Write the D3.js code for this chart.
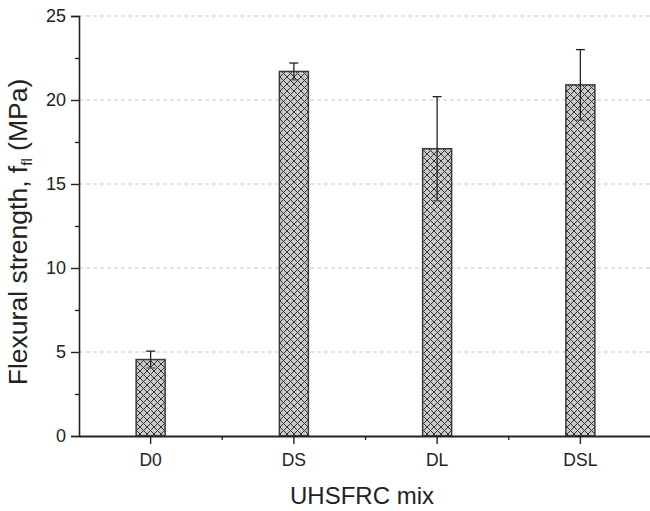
<!DOCTYPE html>
<html>
<head>
<meta charset="utf-8">
<script src="https://cdn.jsdelivr.net/npm/d3@7"></script>
<style>
  body { margin: 0; background: #fff; }
  svg text { font-family: "Liberation Sans", Arial, sans-serif; fill: #222; }
</style>
</head>
<body>
<svg width="650" height="511"></svg>
<script>
// data
var mixes = ["D0", "DS", "DL", "DSL"];
var strength = [4.55, 21.7, 17.1, 20.9];
var errors = [0.5, 0.5, 3.1, 2.1];
var yTicks = [0, 5, 10, 15, 20, 25];

var svg = d3.select("svg");
var mLeft = 79, mRight = 652, mTop = 16, mBottom = 436;

var x = d3.scaleBand().domain(mixes).range([mLeft, mRight]).paddingInner(0).paddingOuter(0);
var y = d3.scaleLinear().domain([0, 25]).range([mBottom, mTop]);
var barW = 29;

// crosshatch pattern
var defs = svg.append("defs");
var pat = defs.append("pattern")
    .attr("id", "hatch")
    .attr("patternUnits", "userSpaceOnUse")
    .attr("width", 7).attr("height", 7);
pat.append("rect").attr("width", 7).attr("height", 7).attr("fill", "#c9c9c9");
pat.append("path").attr("d", "M0,0L7,7M7,0L0,7M-1,6L1,8M6,-1L8,1M-1,1L1,-1M6,8L8,6")
    .attr("stroke", "#333").attr("stroke-width", 1);

// grid lines (dashed)
svg.append("g").selectAll("line")
    .data(yTicks.filter(function (d) { return d > 0; }))
    .enter().append("line")
    .attr("x1", mLeft).attr("x2", 650)
    .attr("y1", function (d) { return y(d); })
    .attr("y2", function (d) { return y(d); })
    .attr("stroke", "#c8c8c8").attr("stroke-width", 1)
    .attr("stroke-dasharray", "4,3");

// bars
svg.append("g").selectAll("rect")
    .data(mixes)
    .enter().append("rect")
    .attr("x", function (d) { return x(d) + x.bandwidth() / 2 - barW / 2; })
    .attr("y", function (d, i) { return y(strength[i]); })
    .attr("width", barW)
    .attr("height", function (d, i) { return y(0) - y(strength[i]); })
    .attr("fill", "url(#hatch)")
    .attr("stroke", "#3a3a3a").attr("stroke-width", 1.5);

// error bars
var eb = svg.append("g").attr("stroke", "#222").attr("stroke-width", 1.3);
mixes.forEach(function (m, i) {
    var cx = x(m) + x.bandwidth() / 2;
    var hi = y(strength[i] + errors[i]), lo = y(strength[i] - errors[i]);
    eb.append("line").attr("x1", cx).attr("x2", cx).attr("y1", hi).attr("y2", lo);
    eb.append("line").attr("x1", cx - 4.5).attr("x2", cx + 4.5).attr("y1", hi).attr("y2", hi);
    eb.append("line").attr("x1", cx - 4.5).attr("x2", cx + 4.5).attr("y1", lo).attr("y2", lo)
        .attr("stroke", "#555");
});

// y axis
var yAxis = svg.append("g")
    .attr("transform", "translate(" + mLeft + ",0)")
    .call(d3.axisLeft(y).tickValues(yTicks).tickSize(8).tickPadding(5).tickFormat(d3.format("d")));
yAxis.select(".domain").attr("stroke", "#222").attr("stroke-width", 1.6);
yAxis.selectAll(".tick line").attr("stroke", "#222").attr("stroke-width", 1.4);
yAxis.selectAll("text").style("font-size", "18px");

// y minor ticks
svg.append("g")
    .attr("transform", "translate(" + mLeft + ",0)")
    .call(d3.axisLeft(y).tickValues([2.5, 7.5, 12.5, 17.5, 22.5]).tickSize(4).tickFormat(""))
    .call(function (g) { g.select(".domain").remove(); })
    .selectAll("line").attr("stroke", "#222").attr("stroke-width", 1.3);

// x axis
var xAxis = svg.append("g")
    .attr("transform", "translate(0," + mBottom + ")")
    .call(d3.axisBottom(x).tickSize(8).tickSizeOuter(0).tickPadding(10));
xAxis.select(".domain").attr("stroke", "#222").attr("stroke-width", 2);
xAxis.selectAll(".tick line").attr("stroke", "#222").attr("stroke-width", 1.4);
xAxis.selectAll("text").style("font-size", "17.5px");

// x minor ticks at band edges
svg.append("g").selectAll("line")
    .data(mixes.slice(1))
    .enter().append("line")
    .attr("x1", function (d) { return x(d); })
    .attr("x2", function (d) { return x(d); })
    .attr("y1", mBottom).attr("y2", mBottom + 4)
    .attr("stroke", "#222").attr("stroke-width", 1.3);

// axis titles
svg.append("text")
    .attr("x", 362).attr("y", 504)
    .attr("text-anchor", "middle")
    .style("font-size", "24px")
    .text("UHSFRC mix");

var yt = svg.append("text")
    .attr("transform", "translate(27,232) rotate(-90)")
    .attr("text-anchor", "middle")
    .style("font-size", "26.5px");
yt.append("tspan").text("Flexural strength, f");
yt.append("tspan").attr("dy", 5).style("font-size", "15px").text("fl");
yt.append("tspan").attr("dy", -5).text(" (MPa)");
</script>
</body>
</html>
